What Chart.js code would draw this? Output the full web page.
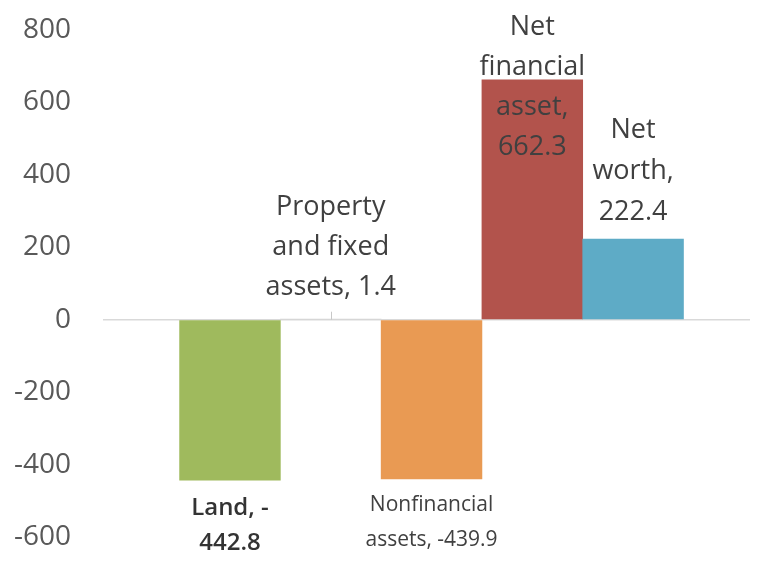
<!DOCTYPE html>
<html>
<head>
<meta charset="utf-8">
<script src="https://cdn.jsdelivr.net/npm/chart.js@4.4.1/dist/chart.umd.min.js"></script>
<style>
html, body { margin: 0; padding: 0; background: #fff; }
</style>
</head>
<body>
<canvas id="bChart" width="768" height="566"></canvas>
<script>
// Data
var categories = ['Land', 'Property and fixed assets', 'Nonfinancial assets', 'Net financial asset', 'Net worth'];
var values = [-442.8, 1.4, -439.9, 662.3, 222.4];
var labelLines = [
    ['Land, -', '442.8'],
    ['Property', 'and fixed', 'assets, 1.4'],
    ['Nonfinancial', 'assets, -439.9'],
    ['Net', 'financial', 'asset,', '662.3'],
    ['Net', 'worth,', '222.4']
];
var yTicks = [800, 600, 400, 200, 0, -200, -400, -600];
var xTickAt = 1; // category tick mark sitting on the zero line

// Styles
var barColors = ['#9fba5d', '#d4d4d4', '#e99a53', '#b2534c', '#5eabc6'];
var labelStyle = [
    { size: 24, weight: 600, lh: 35, gap: 11, color: '#333333' },
    { size: 27, weight: 400, lh: 40, gap: 12, color: '#404040' },
    { size: 21, weight: 400, lh: 35, gap: 8, color: '#404040' },
    { size: 27, weight: 400, lh: 40, gap: 8, color: '#404040' },
    { size: 27, weight: 400, lh: 41, gap: 6, color: '#404040' }
];

// Data labels drawn next to each bar, plus the small tick on the zero line
var barLabels = {
    id: 'barLabels',
    afterDatasetsDraw: function(chart) {
        var ctx = chart.ctx;
        var xs = chart.scales.x, ys = chart.scales.y;
        var tx = Math.round(xs.getPixelForValue(xTickAt)) + 0.5;
        var ty = ys.getPixelForValue(0);
        ctx.save();
        ctx.strokeStyle = '#c8c8c8';
        ctx.lineWidth = 1;
        ctx.beginPath();
        ctx.moveTo(tx, ty);
        ctx.lineTo(tx, ty - 8);
        ctx.stroke();
        ctx.restore();

        var meta = chart.getDatasetMeta(0);
        meta.data.forEach(function(bar, i) {
            var st = labelStyle[i];
            var lines = labelLines[i];
            var h = lines.length * st.lh;
            var top;
            if (values[i] >= 0) {
                top = bar.y - st.gap - h;
                if (top < 7) top = 7;
            } else {
                top = bar.y + st.gap;
            }
            ctx.save();
            ctx.font = st.weight + ' ' + st.size + 'px "Open Sans"';
            ctx.fillStyle = st.color;
            ctx.textAlign = 'center';
            ctx.textBaseline = 'middle';
            lines.forEach(function(t, k) {
                ctx.fillText(t, bar.x, top + st.lh * (k + 0.5));
            });
            ctx.restore();
        });
    }
};

window.onload = function() {
    var ctx = document.getElementById('bChart').getContext('2d');
    var bChart = new Chart(ctx, {
        type: 'bar',
        data: {
            labels: categories,
            datasets: [{
                label: 'Change',
                data: values.map(function(v, i) { return { x: i, y: v }; }),
                backgroundColor: barColors,
                borderWidth: 0,
                categoryPercentage: 1.0,
                barPercentage: 1.0
            }]
        },
        plugins: [barLabels],
        options: {
            responsive: false,
            animation: false,
            layout: {
                padding: { top: 30, bottom: 29, right: 18, left: 0 }
            },
            plugins: {
                legend: { display: false },
                tooltip: { enabled: false }
            },
            scales: {
                x: {
                    type: 'linear',
                    display: false,
                    offset: false,
                    min: -1.26,
                    max: 5.16
                },
                y: {
                    min: -600,
                    max: 800,
                    afterBuildTicks: function(scale) {
                        scale.ticks = yTicks.map(function(v) { return { value: v }; });
                    },
                    afterFit: function(scale) {
                        scale.width = 103;
                        scale.paddingTop = 0;
                        scale.paddingBottom = 0;
                    },
                    grid: {
                        drawTicks: false,
                        lineWidth: 1.5,
                        color: function(c) {
                            return c.tick && c.tick.value === 0 ? '#d9d9d9' : 'rgba(0,0,0,0)';
                        }
                    },
                    border: { display: false },
                    ticks: {
                        padding: 32,
                        color: '#595959',
                        font: { size: 28, family: 'Open Sans' }
                    }
                }
            }
        }
    });
};
</script>
</body>
</html>
